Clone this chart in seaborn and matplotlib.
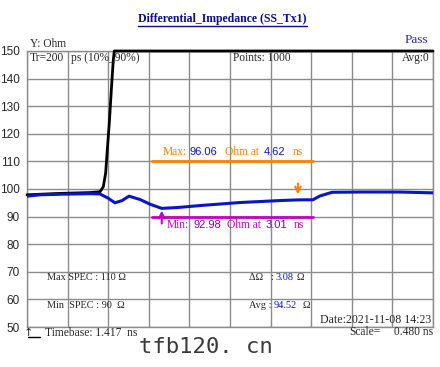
import matplotlib
matplotlib.use("Agg")
import matplotlib.pyplot as plt
from matplotlib.lines import Line2D
import seaborn as sns

# trace data (time in ns, impedance in ohm)
blue_t = [1.417, 1.571, 1.807, 2.162, 2.280, 2.375, 2.457, 2.540, 2.623, 2.753, 2.871, 3.010,
          3.200, 3.462, 3.935, 4.400, 4.620, 4.798, 4.881, 5.023, 5.354, 5.827, 6.217]
blue_ohm = [97.4, 97.9, 98.1, 98.3, 98.2, 96.7, 95.0, 95.8, 97.4, 96.2, 94.5, 92.98,
            93.3, 94.0, 95.1, 95.8, 96.06, 96.1, 97.5, 98.8, 98.9, 98.9, 98.6]
black_t = [1.417, 1.800, 2.160, 2.280, 2.319, 2.347, 2.366, 2.390, 2.414, 2.437, 2.449, 6.217]
black_ohm = [97.9, 98.4, 98.7, 99.0, 100.8, 105.8, 114.1, 123.9, 135.9, 146.7, 150.0, 150.0]

timebase = 1.417
scale = 0.480
y_ticks = [50, 60, 70, 80, 90, 100, 110, 120, 130, 140, 150]
spec_max = 110
spec_min = 90
spec_t = [2.892, 4.798]
max_val, max_t = 96.06, 4.62
min_val, min_t = 92.98, 3.01
avg_val = 94.52

sns.set_style("white")
plt.rcParams["font.family"] = ["Liberation Serif", "DejaVu Serif"]

W, H = 440, 367
fig = plt.figure(figsize=(W / 100, H / 100), dpi=100)
ax = fig.add_axes([27 / W, 1 - 327 / H, 406 / W, 276 / H])

x_ticks = [timebase + i * scale for i in range(11)]
ax.set_xlim(x_ticks[0], x_ticks[-1])
ax.set_ylim(50, 150)
ax.set_xticks(x_ticks)
ax.set_yticks(y_ticks)
ax.set_xticklabels([])
ax.set_yticklabels([str(v) for v in y_ticks], fontsize=8.5, family="Liberation Sans")
ax.tick_params(length=0, pad=5)
ax.grid(True, color="#8c8c8c", lw=1)
for s in ax.spines.values():
    s.set_color("#8c8c8c")
    s.set_linewidth(1)

sns.lineplot(x=black_t, y=black_ohm, ax=ax, color="black", lw=2, estimator=None, zorder=4)
ax.lines[-1].set_clip_on(False)
sns.lineplot(x=blue_t, y=blue_ohm, ax=ax, color="#0a14c8", lw=2.2, estimator=None, zorder=5)

ax.plot(spec_t, [spec_max, spec_max], color="#ff8000", lw=2, zorder=3)
ax.plot(spec_t, [spec_min, spec_min], color="#c000c0", lw=2, zorder=3)
ax.annotate("", xy=(max_t, 97.0), xytext=(max_t, 103.0),
            arrowprops=dict(arrowstyle="->", color="#ff8000", lw=1.5))
ax.annotate("", xy=(min_t, 93.2), xytext=(min_t, 86.5),
            arrowprops=dict(arrowstyle="->", color="#c000c0", lw=1.5))


def ftext(x, y, s, **kw):
    kw.setdefault("fontsize", 8.3)
    kw.setdefault("va", "center")
    return fig.text(x / W, 1 - y / H, s, **kw)


ftext(222, 19, "Differential_Impedance (SS_Tx1)", ha="center", fontsize=8.5,
      fontweight="bold", color="#0a0a9a")
fig.add_artist(Line2D([138 / W, 307 / W], [1 - 26 / H, 1 - 26 / H], color="#0a0a9a", lw=1))
ftext(428, 40, "Pass", ha="right", fontsize=9.5, color="#2828b0")
ftext(30, 44, "Y: Ohm")
ftext(30, 58, "Tr=200")
ftext(71, 58, "ps (10%_90%)")
ftext(233, 58, "Points: 1000")
ftext(430, 58, "Avg:0", ha="right")

# marker readouts
ftext(163, 152, "Max:", color="#ff8000")
ftext(189, 152, f"{max_val:.2f}", color="#0a14c8", family="Liberation Sans", fontsize=8)
ftext(225, 152, "Ohm at", color="#ff8000")
ftext(264, 152, f"{max_t:.2f}", color="#0a14c8", family="Liberation Sans", fontsize=8)
ftext(293, 152, "ns", color="#ff8000")
ftext(167, 225, "Min:", color="#c000c0")
ftext(193, 225, f"{min_val:.2f}", color="#8000a0", family="Liberation Sans", fontsize=8)
ftext(227, 225, "Ohm at", color="#c000c0")
ftext(266, 225, f"{min_t:.2f}", color="#8000a0", family="Liberation Sans", fontsize=8)
ftext(294, 225, "ns", color="#c000c0")

ftext(47, 277, f"Max SPEC : {spec_max} Ω", fontsize=7.4)
ftext(47, 305, f"Min  SPEC : {spec_min}  Ω", fontsize=7.4)
ftext(249, 277, "ΔΩ   :", fontsize=7.4)
ftext(275, 277, f"{max_val - min_val:.2f}", fontsize=7.4, color="#0a14c8")
ftext(296, 277, "Ω", fontsize=7.4)
ftext(249, 305, "Avg :", fontsize=7.4)
ftext(274, 305, f"{avg_val:.2f}", fontsize=7.4, color="#0a14c8")
ftext(302, 305, "Ω", fontsize=7.4)
ftext(431, 320, "Date:2021-11-08 14:23", ha="right", fontsize=8.6)

ftext(24, 333, "↑", fontsize=8, family="DejaVu Sans")
fig.add_artist(Line2D([28 / W, 40 / W], [1 - 337 / H, 1 - 337 / H], color="black", lw=1))
ftext(45, 333, f"Timebase: {timebase:.3f}  ns")
ftext(349, 332, "Scale=")
ftext(433, 332, f"{scale:.3f} ns", ha="right")

ftext(206, 347, "tfb120. cn", ha="center", fontsize=16, family="DejaVu Sans Mono",
      color="#3a3a3a")

fig.savefig("out.png", dpi=100)
